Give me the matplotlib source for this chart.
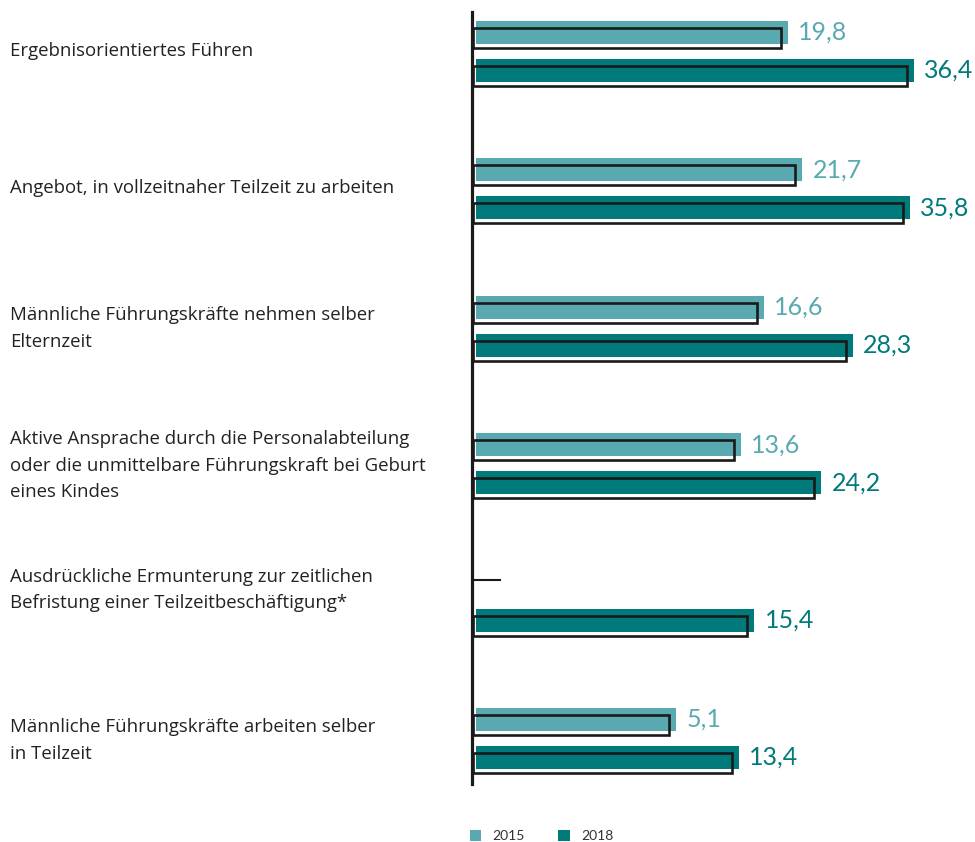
import matplotlib.pyplot as plt
import numpy as np

plt.rcParams['font.family'] = ['Lato', 'DejaVu Sans']

categories = [
    'Ergebnisorientiertes Führen',
    'Angebot, in vollzeitnaher Teilzeit zu arbeiten',
    'Männliche Führungskräfte nehmen selber\nElternzeit',
    'Aktive Ansprache durch die Personalabteilung\noder die unmittelbare Führungskraft bei Geburt\neines Kindes',
    'Ausdrückliche Ermunterung zur zeitlichen\nBefristung einer Teilzeitbeschäftigung*',
    'Männliche Führungskräfte arbeiten selber\nin Teilzeit',
]
v2015 = [19.8, 21.7, 16.6, 13.6, np.nan, 5.1]
v2018 = [36.4, 35.8, 28.3, 24.2, 15.4, 13.4]
years = ['2015', '2018']

c15 = '#59aab0'
c18 = '#007a7b'
edge = '#1a1a1a'

# the original chart cuts the bars off left of zero
base = -21.2
px = 1 / 7.61          # one pixel in value units
gpx = 1 / 137.4        # one pixel in group units

fig = plt.figure(figsize=(9.75, 8.42), dpi=100)
ax = fig.add_axes([472 / 975, 1 - 784 / 842, 503 / 975, 772 / 842])
ax.set_xlim(-21.75, 44.4)
ax.set_ylim((784 - 51.5) * gpx, (12 - 51.5) * gpx)

y = np.arange(len(categories))
off = 19 * gpx
fill_h = 23 * gpx
out_h = 20 * gpx
out_dy = 5.5 * gpx

for vals, sign, col, lab in [(v2015, -1, c15, years[0]), (v2018, 1, c18, years[1])]:
    vals = np.array(vals)
    yy = y + sign * off
    ok = ~np.isnan(vals)
    ax.barh(yy[ok], vals[ok] - base, left=base, height=fill_h, color=col, label=lab)
    ax.barh(yy[ok] + out_dy, vals[ok] - 0.92 - (-21.6), left=-21.6, height=out_h,
            facecolor='none', edgecolor=edge, linewidth=1.9)
    for yi, v in zip(yy[ok], vals[ok]):
        ax.text(v + 10 * px, yi, f'{v:.1f}'.replace('.', ','), color=col,
                fontsize=18, va='center', ha='left')
    # missing value shown as a short dash
    for yi in yy[~ok]:
        ax.plot([-21.7, -21.7 + 28 * px], [yi - 2 * gpx] * 2, color=edge, lw=1.5)

# small vertical nudges of the category labels (pixels)
nudge = [-1, -1, 2, 2, -11, 2]
for yi, lab, dn in zip(y, categories, nudge):
    ax.text(-0.918, yi + dn * gpx, lab, transform=ax.get_yaxis_transform(), ha='left',
            va='center', fontsize=13.4, color='#222222', linespacing=1.62, clip_on=False,
            family=['Open Sans', 'DejaVu Sans'])

for s in ['top', 'right', 'bottom']:
    ax.spines[s].set_visible(False)
ax.spines['left'].set_linewidth(2.3)
ax.spines['left'].set_color(edge)
ax.set_xticks([])
ax.set_yticks([])

fig.legend(loc='lower left', bbox_to_anchor=(457 / 975, -0.015), ncol=2, frameon=False,
           handlelength=0.85, handleheight=0.85, handletextpad=0.8, columnspacing=2.4,
           prop={'size': 10}, labelcolor='#333333')

fig.savefig('out.png', dpi=100)
